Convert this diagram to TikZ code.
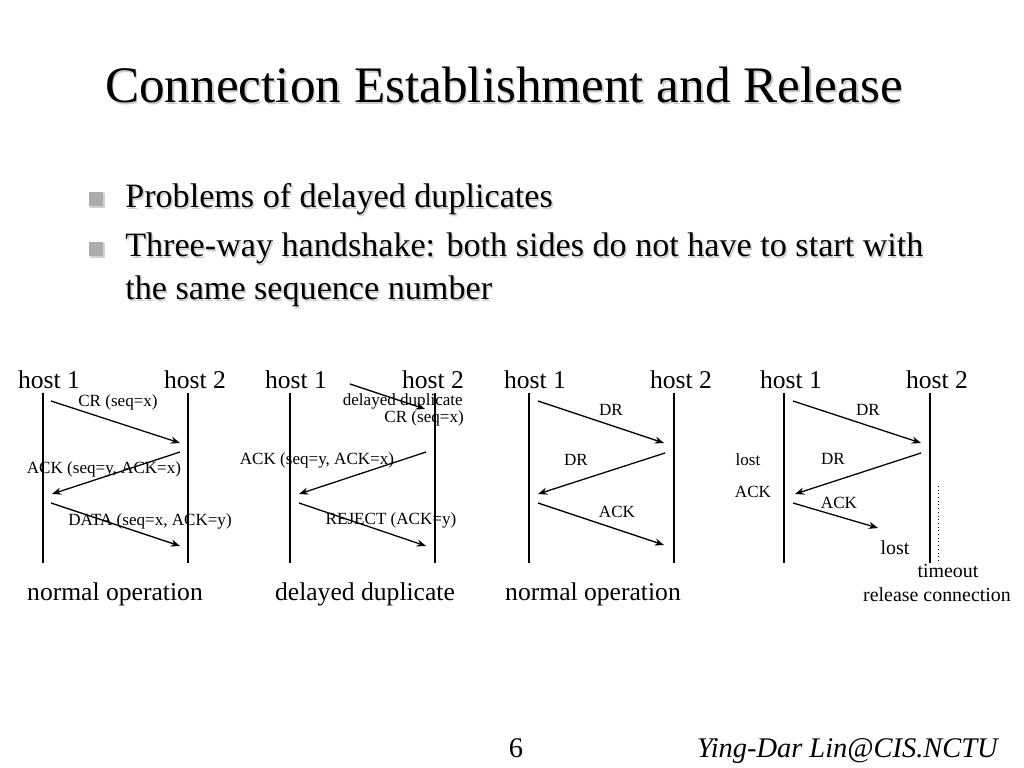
\documentclass[tikz,border=0pt]{standalone}
\usepackage{fontspec}
\setmainfont{Liberation Serif}
\usetikzlibrary{arrows.meta}

\begin{document}
\begin{tikzpicture}[x=0.703125pt, y=-0.703125pt, >={Stealth[length=6.5pt,width=5pt]},
  hostlabel/.style={inner sep=0pt, font=\fontsize{18}{21}\selectfont},
  msglabel/.style={inner sep=0pt, font=\fontsize{12}{14}\selectfont},
  notelabel/.style={inner sep=0pt, font=\fontsize{14}{16}\selectfont},
  titletext/.style={anchor=base, inner sep=0pt, font=\fontsize{36}{43}\selectfont},
  bullettext/.style={anchor=base west, inner sep=0pt, font=\fontsize{24}{29}\selectfont},
  textshadow/.style={text=gray!40},
  bulletsq/.style={fill=gray!65, minimum size=10pt, inner sep=0pt},
  bulletshadow/.style={fill=gray!35, minimum size=10pt, inner sep=0pt},
  lifeline/.style={line width=1.3pt},
  msg/.style={->, line width=0.9pt}]

\useasboundingbox (0,0) rectangle (1024,768);

% Title and bullets (gray copies give the drop shadow)
\node[titletext, textshadow] (titlesh) at (505.5,104.5) {Connection Establishment and Release};
\node[titletext] (title) at (504,103) {Connection Establishment and Release};
\node[bulletshadow] (b1sh) at (97.5,200.5) {};
\node[bulletsq] (b1) at (96,199) {};
\node[bullettext, textshadow] (t1sh) at (126.5,209.5) {Problems of delayed duplicates};
\node[bullettext] (t1) at (125,208) {Problems of delayed duplicates};
\node[bulletshadow] (b2sh) at (97.5,250.5) {};
\node[bulletsq] (b2) at (96,249) {};
\node[bullettext, textshadow] (t2sh) at (126.5,258.5) {Three-way handshake: both sides do not have to start with};
\node[bullettext] (t2) at (125,257) {Three-way handshake: both sides do not have to start with};
\node[bullettext, textshadow] (t3sh) at (126.5,301.5) {the same sequence number};
\node[bullettext] (t3) at (125,300) {the same sequence number};

% Panel 1: normal operation
\node[hostlabel] (ah1) at (49,380)  {host 1};
\node[hostlabel] (ah2) at (195,380) {host 2};
\coordinate (ah1top) at (43,393);  \coordinate (ah1bot) at (43,563);
\coordinate (ah2top) at (188,393); \coordinate (ah2bot) at (188,563);
\draw[lifeline] (ah1top) -- (ah1bot);
\draw[lifeline] (ah2top) -- (ah2bot);
\coordinate (a1s) at (51,401);  \coordinate (a1e) at (180,443);
\coordinate (a2s) at (180,452); \coordinate (a2e) at (52,494);
\coordinate (a3s) at (51,503);  \coordinate (a3e) at (180,546);
\draw[msg] (a1s) -- (a1e);
\draw[msg] (a2s) -- (a2e);
\draw[msg] (a3s) -- (a3e);
\node[msglabel] (acr)   at (118,402) {CR (seq=x)};
\node[msglabel] (aack)  at (104,469) {ACK (seq=y, ACK=x)};
\node[msglabel] (adata) at (150,521) {DATA (seq=x, ACK=y)};
\node[hostlabel] (acap) at (115,594) {normal operation};

% Panel 2: delayed duplicate
\node[hostlabel] (bh1) at (296,380) {host 1};
\node[hostlabel] (bh2) at (433,380) {host 2};
\coordinate (bh1top) at (290,393); \coordinate (bh1bot) at (290,563);
\coordinate (bh2top) at (435,393); \coordinate (bh2bot) at (435,563);
\draw[lifeline] (bh1top) -- (bh1bot);
\draw[lifeline] (bh2top) -- (bh2bot);
\coordinate (b1s) at (350,384); \coordinate (b1e) at (425,409);
\coordinate (b2s) at (426,452); \coordinate (b2e) at (299,494);
\coordinate (b3s) at (299,503); \coordinate (b3e) at (426,546);
\draw[msg] (b1s) -- (b1e);
\draw[msg] (b2s) -- (b2e);
\draw[msg] (b3s) -- (b3e);
\node[msglabel, anchor=east] (bdup) at (463,401) {delayed duplicate};
\node[msglabel, anchor=east] (bcr)  at (464,418) {CR (seq=x)};
\node[msglabel] (back) at (317,460) {ACK (seq=y, ACK=x)};
\node[msglabel] (brej) at (391,520) {REJECT (ACK=y)};
\node[hostlabel] (bcap) at (365,594) {delayed duplicate};

% Panel 3: normal release
\node[hostlabel] (ch1) at (535,380) {host 1};
\node[hostlabel] (ch2) at (681,380) {host 2};
\coordinate (ch1top) at (529,393); \coordinate (ch1bot) at (529,563);
\coordinate (ch2top) at (674,393); \coordinate (ch2bot) at (674,563);
\draw[lifeline] (ch1top) -- (ch1bot);
\draw[lifeline] (ch2top) -- (ch2bot);
\coordinate (c1s) at (538,401); \coordinate (c1e) at (664,443);
\coordinate (c2s) at (665,453); \coordinate (c2e) at (538,494);
\coordinate (c3s) at (538,503); \coordinate (c3e) at (664,545);
\draw[msg] (c1s) -- (c1e);
\draw[msg] (c2s) -- (c2e);
\draw[msg] (c3s) -- (c3e);
\node[msglabel] (cdr1) at (611,410) {DR};
\node[msglabel] (cdr2) at (576,460) {DR};
\node[msglabel] (cack) at (617,512) {ACK};
\node[hostlabel] (ccap) at (593,594) {normal operation};

% Panel 4: final ACK lost
\node[hostlabel] (dh1) at (791,380) {host 1};
\node[hostlabel] (dh2) at (937,380) {host 2};
\coordinate (dh1top) at (784,393); \coordinate (dh1bot) at (784,563);
\coordinate (dh2top) at (930,393); \coordinate (dh2bot) at (930,563);
\draw[lifeline] (dh1top) -- (dh1bot);
\draw[lifeline] (dh2top) -- (dh2bot);
\coordinate (dtimer) at (938,486); \coordinate (dtimerend) at (938,562);
\draw[dotted, line width=0.6pt] (dtimer) -- (dtimerend);
\coordinate (d1s) at (793,401); \coordinate (d1e) at (921,443);
\coordinate (d2s) at (921,453); \coordinate (d2e) at (795,494);
\coordinate (d3s) at (793,503); \coordinate (d3e) at (878,528);
\draw[msg] (d1s) -- (d1e);
\draw[msg] (d2s) -- (d2e);
\draw[msg] (d3s) -- (d3e);
\node[msglabel] (ddr1)  at (868,410) {DR};
\node[msglabel] (ddr2)  at (833,459) {DR};
\node[msglabel] (dlost) at (748,460) {lost};
\node[msglabel] (dack)  at (753,492) {ACK};
\node[msglabel] (dack2) at (839,503) {ACK};
\node[notelabel] (dlost2) at (895,548) {lost};
\node[notelabel] (dtime) at (948,571) {timeout};
\node[notelabel] (drel)  at (937,595) {release connection};

% Footer
\node[inner sep=0pt, anchor=base, font=\fontsize{20}{24}\selectfont] (page) at (516,757) {6};
\node[inner sep=0pt, anchor=base east, font=\fontsize{20}{24}\selectfont\itshape] (author) at (998,757) {Ying-Dar Lin@CIS.NCTU};

\end{tikzpicture}
\end{document}
